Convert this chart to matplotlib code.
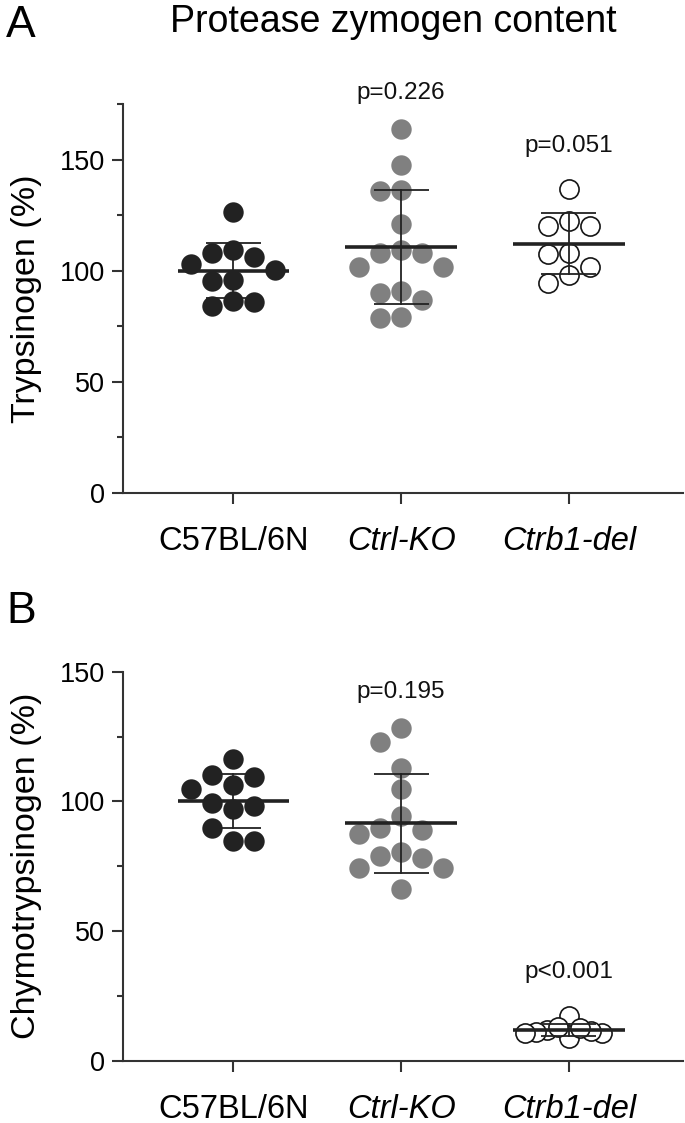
import numpy as np
import matplotlib
matplotlib.use("Agg")
import matplotlib.pyplot as plt
from matplotlib.ticker import MultipleLocator

plt.rcParams['font.family'] = ['Liberation Sans', 'DejaVu Sans']

# ---------------- data ----------------
groups = ['C57BL/6N', 'Ctrl-KO', 'Ctrb1-del']
group_italic = [False, True, True]

tryp_wt = [126.2, 108.1, 102.9, 100.3, 105.9, 109.4, 95.8, 95.3, 86.3, 84.2, 86.0]
tryp_ctrl_ko = [163.9, 147.5, 136.5, 136.0, 121.1, 108.1, 107.9, 109.4, 101.8, 101.5,
                91.0, 86.8, 89.8, 78.8, 79.2]
tryp_ctrb1_del = [136.9, 122.1, 119.9, 119.9, 108.1, 107.5, 101.8, 98.1, 94.3]

chymo_wt = [116.4, 104.7, 109.5, 110.2, 106.3, 98.3, 97.1, 99.5, 89.6, 84.7, 84.7]
chymo_ctrl_ko = [128.2, 122.8, 112.8, 104.7, 94.5, 89.9, 87.3, 89.0, 78.9, 78.0,
                 80.6, 74.4, 74.2, 66.1]
chymo_ctrb1_del = [17.2, 11.8, 11.2, 10.6, 8.6, 10.8, 11.6, 12.5, 13.1]

p_tryp = ['', 'p=0.226', 'p=0.051']
p_chymo = ['', 'p=0.195', 'p<0.001']

# ---------------- style ----------------
face_cols = ['#222222', '#808080', 'white']
edge_cols = ['#222222', '#808080', '#151515']
edge_w = [0.0, 0.0, 1.2]
marker_sizes = [216, 216, 190]
line_col = '#222222'
spine_col = '#333333'

W, H = 685, 1123
fig = plt.figure(figsize=(W / 100, H / 100), dpi=100)


def add_axes_px(left, top, right, bottom):
    return fig.add_axes([left / W, 1 - bottom / H, (right - left) / W, (bottom - top) / H])


axA = add_axes_px(122.7, 104.0, 683.0, 492.7)
axB = add_axes_px(122.7, 671.7, 683.0, 1060.7)

xlim = (-0.66, 2.68)


def swarm_x(ax, xc, vals, diam_px=21.0, max_half_px=44.0):
    vals = np.asarray(vals, float)
    pts = ax.transData.transform(np.column_stack([np.full(len(vals), xc), vals]))
    ypx = pts[:, 1]
    order = np.argsort(-vals, kind='stable')
    cand = [0]
    for k in range(1, 30):
        cand += [-k, k]
    slots = np.zeros(len(vals), int)
    placed = []
    for i in order:
        for k in cand:
            if all(not (s == k and abs(y - ypx[i]) < diam_px) for s, y in placed):
                slots[i] = k
                placed.append((k, ypx[i]))
                break
    step = diam_px
    m = np.abs(slots).max()
    if m > 0 and m * step > max_half_px:
        step = max_half_px / m
    x0 = ax.transData.transform([[0, 0]])[0, 0]
    x1 = ax.transData.transform([[1, 0]])[0, 0]
    return xc + slots * step / (x1 - x0)


def panel(ax, data, ymax, ylabel, pvals, ppos):
    ax.set_xlim(*xlim)
    ax.set_ylim(0, ymax)
    for sp in ['top', 'right']:
        ax.spines[sp].set_visible(False)
    for sp in ['left', 'bottom']:
        ax.spines[sp].set_linewidth(1.5)
        ax.spines[sp].set_color(spine_col)
    ax.yaxis.set_major_locator(MultipleLocator(50))
    ax.yaxis.set_minor_locator(MultipleLocator(25))
    ax.set_xticks(range(len(groups)))
    ax.set_xticklabels(groups, fontsize=23.5)
    for lbl, it in zip(ax.get_xticklabels(), group_italic):
        lbl.set_style('italic' if it else 'normal')
    ax.tick_params(axis='x', which='major', length=8, width=1.5, color=spine_col, pad=16)
    ax.tick_params(axis='y', which='major', length=8, width=1.5, color=spine_col, pad=5,
                   labelsize=19.5)
    ax.tick_params(axis='y', which='minor', length=4, width=1.5, color=spine_col)
    ax.set_ylabel(ylabel, fontsize=24.5)
    ax.yaxis.set_label_coords(-0.144, 0.5)

    for i, vals in enumerate(data):
        xs = swarm_x(ax, i, vals)
        ax.scatter(xs, vals, s=marker_sizes[i], c=face_cols[i], edgecolors=edge_cols[i],
                   linewidths=edge_w[i], zorder=3, clip_on=False)
        m = np.mean(vals)
        sd = np.std(vals, ddof=1)
        ax.plot([i - 0.332, i + 0.332], [m, m], color=line_col, lw=2.6, zorder=4,
                solid_capstyle='butt')
        ax.plot([i, i], [m - sd, m + sd], color=line_col, lw=1.3, zorder=4)
        for yv in (m - sd, m + sd):
            ax.plot([i - 0.164, i + 0.164], [yv, yv], color=line_col, lw=1.3, zorder=4,
                    solid_capstyle='butt')
        if pvals[i]:
            ax.text(i, ppos[i], pvals[i], ha='center', va='center', fontsize=17.5,
                    clip_on=False, color='#111111')


panel(axA, [tryp_wt, tryp_ctrl_ko, tryp_ctrb1_del], 175, 'Trypsinogen (%)',
      p_tryp, [None, 180.0, 156.2])
panel(axB, [chymo_wt, chymo_ctrl_ko, chymo_ctrb1_del], 150, 'Chymotrypsinogen (%)',
      p_chymo, [None, 142.0, 34.3])

fig.text(393 / W, 1 - 31.7 / H, 'Protease zymogen content', ha='center', va='baseline',
         fontsize=27)
fig.text(6.0 / W, 1 - 37.0 / H, 'A', ha='left', va='baseline', fontsize=32)
fig.text(6.0 / W, 1 - 623.0 / H, 'B', ha='left', va='baseline', fontsize=32)

fig.savefig('out.png', dpi=100)
